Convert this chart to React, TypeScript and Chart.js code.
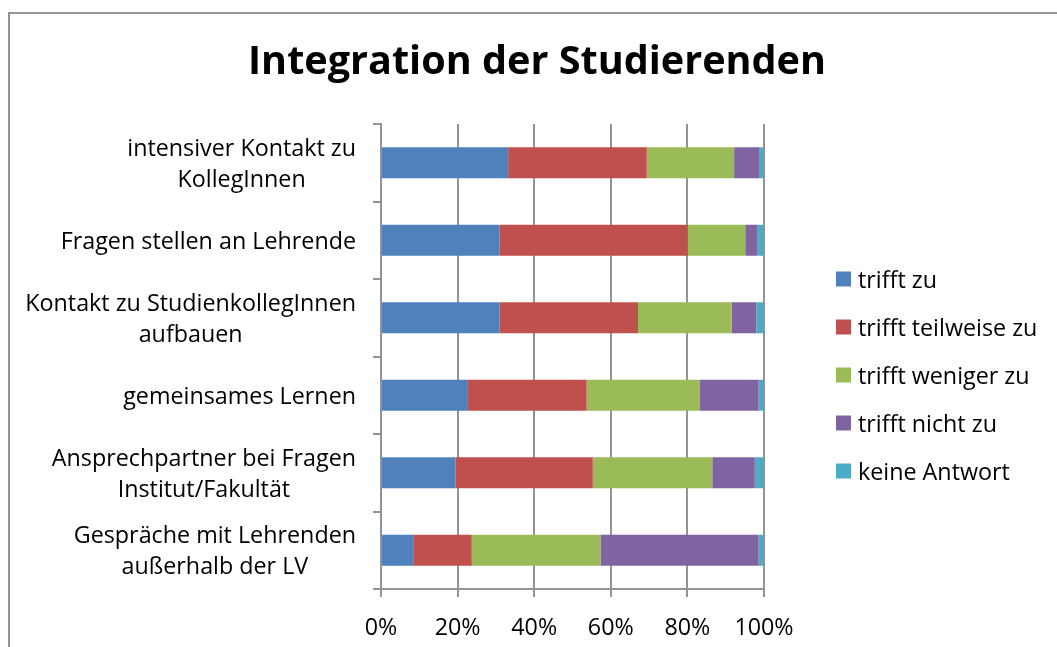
import React, { useEffect, useRef } from "react";
import { Chart, registerables } from "chart.js";

Chart.register(...registerables);

const categories: string[][] = [
  ["intensiver Kontakt zu", "KollegInnen"],
  ["Fragen stellen an Lehrende"],
  ["Kontakt zu StudienkollegInnen", "aufbauen"],
  ["gemeinsames Lernen"],
  ["Ansprechpartner bei Fragen", "Institut/Fakultät"],
  ["Gespräche mit Lehrenden", "außerhalb der LV"],
];

const seriesNames = [
  "trifft zu",
  "trifft teilweise zu",
  "trifft weniger zu",
  "trifft nicht zu",
  "keine Antwort",
];

const trifftZu = [33.2, 31.0, 31.0, 22.5, 19.5, 8.4];
const trifftTeilweise = [36.2, 49.1, 36.1, 31.2, 35.8, 15.3];
const trifftWeniger = [22.8, 15.0, 24.5, 29.6, 31.2, 33.6];
const trifftNicht = [6.5, 3.1, 6.4, 15.3, 11.1, 41.3];
const keineAntwort = [1.3, 1.8, 2.0, 1.4, 2.4, 1.4];

const seriesColors = ["#4F81BD", "#C0504D", "#9BBB59", "#8064A2", "#4BACC6"];
const xTickValues = [0, 20, 40, 60, 80, 100];

const FONT = "'Open Sans', 'Noto Sans', sans-serif";
const LABEL_SIZE = 23.3;
const AXIS_GREY = "#939393";

const labelPlugin = {
  id: "customLabelsLegend",
  afterDraw(chart: any) {
    const ctx = chart.ctx as CanvasRenderingContext2D;
    const yScale = chart.scales.y;
    ctx.save();
    ctx.fillStyle = "#000";
    ctx.font = `${LABEL_SIZE}px ${FONT}`;
    const capH = ctx.measureText("H").actualBoundingBoxAscent;
    const lineGap = 30.7;
    const rightEdge = yScale.right - 8 - 17;
    (chart.data.labels as string[][]).forEach((lines, i) => {
      const cy = yScale.getPixelForValue(i);
      const widest = Math.max(...lines.map((l) => ctx.measureText(l).width));
      const cx = rightEdge - widest / 2;
      ctx.textAlign = "center";
      ctx.textBaseline = "alphabetic";
      lines.forEach((line, j) => {
        const y = cy + (j - (lines.length - 1) / 2) * lineGap + capH / 2;
        ctx.fillText(line, cx, y);
      });
    });

    // legend
    const area = chart.chartArea;
    const legendX = area.right + 72;
    const legendTop = 279;
    const step = 48;
    chart.data.datasets.forEach((ds: any, i: number) => {
      const cy = legendTop + i * step;
      ctx.fillStyle = ds.backgroundColor;
      ctx.fillRect(legendX, cy - 7.5, 15, 15);
      ctx.fillStyle = "#000";
      ctx.textAlign = "left";
      ctx.textBaseline = "alphabetic";
      ctx.fillText(ds.label, legendX + 22, cy + capH / 2);
    });
    ctx.restore();
  },
};

export default function App() {
  const canvasRef = useRef<HTMLCanvasElement | null>(null);

  useEffect(() => {
    document.body.style.overflow = "hidden";
    const canvas = canvasRef.current;
    if (!canvas) return;
    const seriesData = [trifftZu, trifftTeilweise, trifftWeniger, trifftNicht, keineAntwort];
    const chart = new Chart(canvas, {
      type: "bar",
      data: {
        labels: categories as any,
        datasets: seriesNames.map((name, i) => ({
          label: name,
          data: seriesData[i],
          backgroundColor: seriesColors[i],
          borderWidth: 0,
          categoryPercentage: 1,
          barPercentage: 0.4,
        })),
      },
      options: {
        indexAxis: "y",
        responsive: false,
        animation: false,
        layout: { padding: { left: 17, right: 0, top: 0, bottom: 0 } },
        plugins: {
          legend: { display: false },
          tooltip: { enabled: false },
          title: {
            display: true,
            text: "Integration der Studierenden",
            color: "#000",
            font: { family: FONT, size: 39.6, weight: "bold" },
            padding: { top: 39, bottom: 37.5 },
          },
        },
        scales: {
          x: {
            stacked: true,
            min: 0,
            max: 100,
            afterBuildTicks: (s: any) => {
              s.ticks = xTickValues.map((v) => ({ value: v }));
            },
            ticks: {
              color: "#000",
              font: { family: FONT, size: LABEL_SIZE },
              padding: 17,
              callback: (v: any) => `${v}%`,
            },
            grid: { color: AXIS_GREY, lineWidth: 2, tickLength: 8 },
            border: { color: AXIS_GREY, width: 2 },
            afterFit: (s: any) => {
              s.height = 58;
            },
          },
          y: {
            stacked: true,
            offset: true,
            grid: { offset: true, drawOnChartArea: false, tickLength: 8, color: AXIS_GREY, lineWidth: 2 },
            ticks: { display: false },
            border: { color: AXIS_GREY, width: 2 },
            afterFit: (s: any) => {
              s.width = 364;
            },
          },
          yPad: {
            type: "category",
            position: "right",
            display: true,
            grid: { display: false },
            ticks: { display: false },
            border: { display: false },
            afterFit: (s: any) => {
              s.width = 293;
            },
          },
        },
      } as any,
      plugins: [labelPlugin],
    });
    return () => chart.destroy();
  }, []);

  return (
    <div style={{ position: "absolute", left: 0, top: 0, width: 1057, height: 647, overflow: "hidden", background: "#fff" }}>
      <div
        style={{
          position: "absolute",
          left: 8,
          top: 12,
          width: 1100,
          height: 700,
          borderTop: "2px solid #959595",
          borderLeft: "2px solid #959595",
        }}
      />
      <canvas
        ref={canvasRef}
        width={1057}
        height={647}
        style={{ position: "absolute", left: 0, top: 0, width: 1057, height: 647, display: "block" }}
      />
    </div>
  );
}
